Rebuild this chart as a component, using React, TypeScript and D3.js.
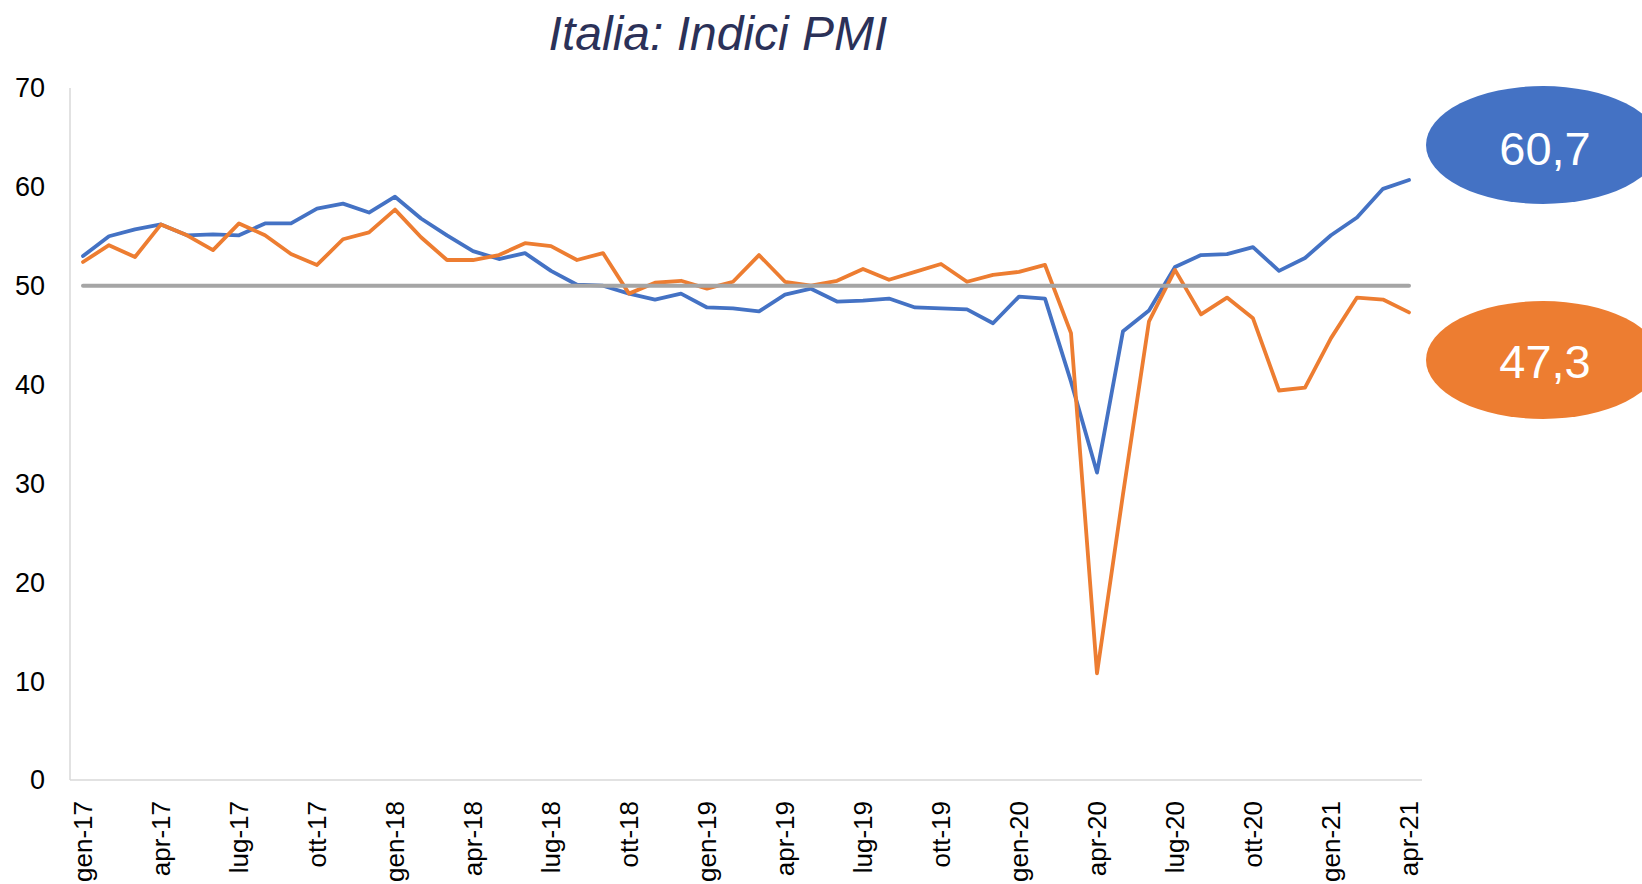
import React from 'react';
import * as d3 from 'd3';

// months on the x axis (gen-17 .. apr-21)
const months = [
  'gen-17', 'feb-17', 'mar-17', 'apr-17', 'mag-17', 'giu-17', 'lug-17', 'ago-17', 'set-17', 'ott-17', 'nov-17', 'dic-17',
  'gen-18', 'feb-18', 'mar-18', 'apr-18', 'mag-18', 'giu-18', 'lug-18', 'ago-18', 'set-18', 'ott-18', 'nov-18', 'dic-18',
  'gen-19', 'feb-19', 'mar-19', 'apr-19', 'mag-19', 'giu-19', 'lug-19', 'ago-19', 'set-19', 'ott-19', 'nov-19', 'dic-19',
  'gen-20', 'feb-20', 'mar-20', 'apr-20', 'mag-20', 'giu-20', 'lug-20', 'ago-20', 'set-20', 'ott-20', 'nov-20', 'dic-20',
  'gen-21', 'feb-21', 'mar-21', 'apr-21',
];

// PMI manifattura (blue)
const manifattura = [
  53.0, 55.0, 55.7, 56.2, 55.1, 55.2, 55.1, 56.3, 56.3, 57.8, 58.3, 57.4,
  59.0, 56.8, 55.1, 53.5, 52.7, 53.3, 51.5, 50.1, 50.0, 49.2, 48.6, 49.2,
  47.8, 47.7, 47.4, 49.1, 49.7, 48.4, 48.5, 48.7, 47.8, 47.7, 47.6, 46.2,
  48.9, 48.7, 40.3, 31.1, 45.4, 47.5, 51.9, 53.1, 53.2, 53.9, 51.5, 52.8,
  55.1, 56.9, 59.8, 60.7,
];

// PMI servizi (orange)
const servizi = [
  52.4, 54.1, 52.9, 56.2, 55.1, 53.6, 56.3, 55.1, 53.2, 52.1, 54.7, 55.4,
  57.7, 54.9, 52.6, 52.6, 53.1, 54.3, 54.0, 52.6, 53.3, 49.2, 50.3, 50.5,
  49.7, 50.4, 53.1, 50.4, 50.0, 50.5, 51.7, 50.6, 51.4, 52.2, 50.4, 51.1,
  51.4, 52.1, 45.2, 10.8, 28.9, 46.4, 51.6, 47.1, 48.8, 46.7, 39.4, 39.7,
  44.7, 48.8, 48.6, 47.3,
];

const soglia = 50;
const yTicks = [0, 10, 20, 30, 40, 50, 60, 70];
const lastLabels = ['60,7', '47,3'];

const W = 1642;
const H = 884;
const font = '"Liberation Sans", Arial, sans-serif';

export default function App() {
  const x = d3.scaleBand<string>().domain(months).range([70, 1422]);
  const y = d3.scaleLinear().domain([0, 70]).range([780, 88]);
  const cx = (m: string) => (x(m) as number) + x.bandwidth() / 2;

  const line = d3.line<number>()
    .x((_, i) => cx(months[i]))
    .y((d) => y(d));

  const xTicks = months.filter((_, i) => i % 3 === 0);
  const first = months[0];
  const last = months[months.length - 1];

  return (
    <svg width={W} height={H} style={{ position: 'absolute', left: 0, top: 0, display: 'block' }}
      fontFamily={font}>
      <rect width={W} height={H} fill="#ffffff" />

      <text x={718} y={50} textAnchor="middle" fontSize={48} fontStyle="italic" fill="#2B3158">
        Italia: Indici PMI
      </text>

      {/* axes */}
      <line x1={70} x2={70} y1={y(70)} y2={y(0)} stroke="#D9D9D9" strokeWidth={1.5} />
      <line x1={70} x2={1422} y1={y(0)} y2={y(0)} stroke="#D9D9D9" strokeWidth={1.5} />

      {yTicks.map((t) => (
        <text key={t} x={45} y={y(t)} dy="0.35em" textAnchor="end" fontSize={27} fill="#000">
          {t}
        </text>
      ))}

      {xTicks.map((m) => (
        <text key={m} transform={`translate(${cx(m)},801) rotate(-90)`} dy="0.35em"
          textAnchor="end" fontSize={26} fill="#000">
          {m}
        </text>
      ))}

      <path d={line(manifattura) || ''} fill="none" stroke="#4472C4" strokeWidth={3.8}
        strokeLinejoin="round" strokeLinecap="round" />
      <path d={line(servizi) || ''} fill="none" stroke="#ED7D31" strokeWidth={3.8}
        strokeLinejoin="round" strokeLinecap="round" />
      <line x1={cx(first)} x2={cx(last)} y1={y(soglia)} y2={y(soglia)} stroke="#A5A5A5"
        strokeWidth={4} strokeLinecap="round" />

      {/* last value bubbles */}
      <ellipse cx={1543} cy={145} rx={117} ry={59} fill="#4472C4" />
      <text x={1545} y={165} textAnchor="middle" fontSize={47} fill="#fff">{lastLabels[0]}</text>
      <ellipse cx={1543} cy={360} rx={117} ry={59} fill="#ED7D31" />
      <text x={1545} y={378} textAnchor="middle" fontSize={47} fill="#fff">{lastLabels[1]}</text>
    </svg>
  );
}
